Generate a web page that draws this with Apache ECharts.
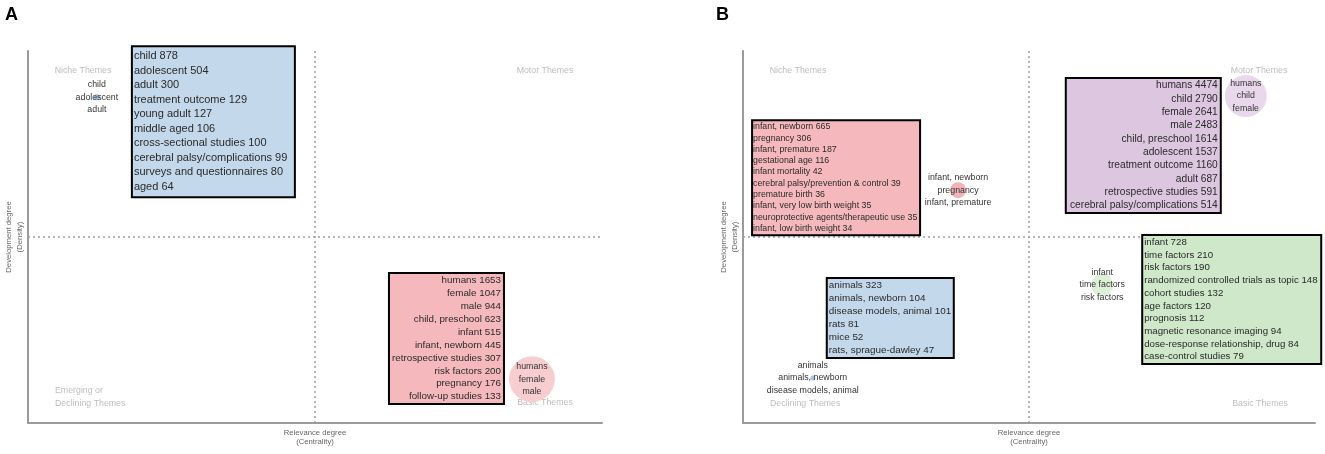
<!DOCTYPE html>
<html><head><meta charset="utf-8">
<script src="https://cdn.jsdelivr.net/npm/echarts@6/dist/echarts.min.js"></script>
<style>html,body{margin:0;padding:0;background:#fff}#c{width:1325px;height:454px}</style>
</head><body><div id="c"></div>
<script>
// ---------- DATA ----------
// Panel A clusters: [niche (blue), basic (pink)]
const centralityA = [0.120, 0.878];
const densityA = [0.876, 0.118];
const clusterFreqA = [36, 2100];
const wordsA1 = ['child','adolescent','adult','treatment outcome','young adult','middle aged','cross-sectional studies','cerebral palsy/complications','surveys and questionnaires','aged'];
const countsA1 = [878,504,300,129,127,106,100,99,80,64];
const wordsA2 = ['humans','female','male','child, preschool','infant','infant, newborn','retrospective studies','risk factors','pregnancy','follow-up studies'];
const countsA2 = [1653,1047,944,623,515,445,307,200,176,133];

// Panel B clusters: [pink, purple, green, blue]
const centralityB = [0.376, 0.879, 0.628, 0.122];
const densityB = [0.626, 0.879, 0.371, 0.121];
const clusterFreqB = [256, 1760, 480, 25];
const wordsB1 = ['infant, newborn','pregnancy','infant, premature','gestational age','infant mortality','cerebral palsy/prevention & control','premature birth','infant, very low birth weight','neuroprotective agents/therapeutic use','infant, low birth weight'];
const countsB1 = [665,306,187,116,42,39,36,35,35,34];
const wordsB2 = ['humans','child','female','male','child, preschool','adolescent','treatment outcome','adult','retrospective studies','cerebral palsy/complications'];
const countsB2 = [4474,2790,2641,2483,1614,1537,1160,687,591,514];
const wordsB3 = ['infant','time factors','risk factors','randomized controlled trials as topic','cohort studies','age factors','prognosis','magnetic resonance imaging','dose-response relationship, drug','case-control studies'];
const countsB3 = [728,210,190,148,132,120,112,94,84,79];
const wordsB4 = ['animals','animals, newborn','disease models, animal','rats','mice','rats, sprague-dawley'];
const countsB4 = [323,104,101,81,52,47];

const medianCentrality = 0.5;
const medianDensity = 0.5;

// ---------- STYLE / LAYOUT ----------
const FONT = '"Liberation Sans", Arial, sans-serif';
const styleA = [
  {bubble:'#9dbde0', box:'#c4d8eb', align:'left', pos:[36,-50], width:158, lh:14.5, fs:11, pad:[2,2,2,1]},
  {bubble:'#f7cdd0', box:'#f5b9bd', align:'right', pos:[-29,-105], width:110, lh:12.9, fs:9.8, pad:[0,2,0,1]}
];
const styleB = [
  {bubble:'#efb3b8', box:'#f5b9bd', align:'left', pos:[-205,-69], width:165, lh:11.3, fs:8.8, pad:[0,1,0,0]},
  {bubble:'#e9d8eb', box:'#ddc7e0', align:'right', pos:[-26,-17], width:151, lh:13.3, fs:10.2, pad:[0,2,0,0]},
  {bubble:'#dcefd7', box:'#cfe8c9', align:'left', pos:[41,-49], width:175, lh:12.7, fs:9.7, pad:[0,1,0,1]},
  {bubble:'#a9c6e0', box:'#c4d8eb', align:'left', pos:[15,-99], width:123, lh:13, fs:9.9, pad:[0,1,0,1]}
];

function bubbleSeries(gi, cen, den, freq, wordLists, styles) {
  return {
    type:'scatter', xAxisIndex:gi, yAxisIndex:gi, z:2,
    data: cen.map((c,i)=>({
      value:[c, den[i]],
      symbolSize: Math.sqrt(freq[i]),
      itemStyle:{color:styles[i].bubble, opacity:1},
      label:{show:true, position:'inside', formatter: wordLists[i].slice(0,3).join('\n'),
        fontSize:8.8, lineHeight:12.7, color:'#333', fontFamily:FONT}
    })),
    markLine:{silent:true, symbol:'none', label:{show:false},
      lineStyle:{type:[2,3], color:'#9f9f9f', width:1.5},
      data:[{xAxis:medianCentrality},{yAxis:medianDensity}]}
  };
}
function boxSeries(gi, cen, den, wordLists, countLists, styles) {
  return {
    type:'scatter', xAxisIndex:gi, yAxisIndex:gi, z:5, symbolSize:0,
    itemStyle:{color:'rgba(0,0,0,0)', opacity:1},
    labelLayout:{hideOverlap:false},
    data: cen.map((c,i)=>{
      const s = styles[i];
      return {
        value:[c, den[i]],
        label:{show:true, position:s.pos, align:s.align, verticalAlign:'top', opacity:1,
          formatter: wordLists[i].map((w,j)=>w+' '+countLists[i][j]).join('\n'),
          width:s.width, lineHeight:s.lh, fontSize:s.fs, color:'#2a2a2a', fontFamily:FONT,
          overflow:'none',
          backgroundColor:s.box, borderColor:'#000', borderWidth:2, padding:s.pad}
      };
    })
  };
}
function axisPair(gi) {
  const line = {show:true, onZero:false, lineStyle:{color:'#9a9a9a', width:2}};
  return {
    x:{type:'value', gridIndex:gi, min:0, max:1, axisLine:line, axisTick:{show:false}, axisLabel:{show:false}, splitLine:{show:false},
       name:'Relevance degree\n(Centrality)', nameLocation:'middle', nameGap:5,
       nameTextStyle:{fontSize:7.7, color:'#666', lineHeight:9.5, fontFamily:FONT, verticalAlign:'top'}},
    y:{type:'value', gridIndex:gi, min:0, max:1, axisLine:line, axisTick:{show:false}, axisLabel:{show:false}, splitLine:{show:false},
       name:'Development degree\n(Density)', nameLocation:'middle', nameGap:3,
       nameTextStyle:{fontSize:7.7, color:'#666', lineHeight:11, fontFamily:FONT}}
  };
}
const aA = axisPair(0), aB = axisPair(1);

function qText(x, y, text, align) {
  return {type:'text', x:x, y:y, silent:true,
    style:{text:text, fill:'#bdbdbd', font:'8.8px '+FONT, align:align||'center', verticalAlign:'middle', lineHeight:13}};
}

const chart = echarts.init(document.getElementById('c'), null, {renderer:'canvas'});
chart.setOption({
  animation:false,
  backgroundColor:'#fff',
  title:[
    {text:'A', left:5, top:6, padding:0, textStyle:{fontSize:18, fontWeight:'bold', color:'#000', fontFamily:FONT}},
    {text:'B', left:716, top:6, padding:0, textStyle:{fontSize:18, fontWeight:'bold', color:'#000', fontFamily:FONT}}
  ],
  grid:[
    {left:28, top:51, width:574, height:372},
    {left:743, top:51, width:572, height:372}
  ],
  xAxis:[aA.x, aB.x],
  yAxis:[aA.y, aB.y],
  graphic:[
    qText(83, 71, 'Niche Themes'),
    qText(545, 71, 'Motor Themes'),
    qText(55, 397.5, 'Emerging or\nDeclining Themes', 'left'),
    qText(545, 403, 'Basic Themes'),
    qText(798, 71, 'Niche Themes'),
    qText(1259, 71, 'Motor Themes'),
    qText(770, 404, 'Declining Themes', 'left'),
    qText(1260, 404, 'Basic Themes')
  ],
  series:[
    bubbleSeries(0, centralityA, densityA, clusterFreqA, [wordsA1, wordsA2], styleA),
    boxSeries(0, centralityA, densityA, [wordsA1, wordsA2], [countsA1, countsA2], styleA),
    bubbleSeries(1, centralityB, densityB, clusterFreqB, [wordsB1, wordsB2, wordsB3, wordsB4], styleB),
    boxSeries(1, centralityB, densityB, [wordsB1, wordsB2, wordsB3, wordsB4], [countsB1, countsB2, countsB3, countsB4], styleB)
  ]
});
</script></body></html>
